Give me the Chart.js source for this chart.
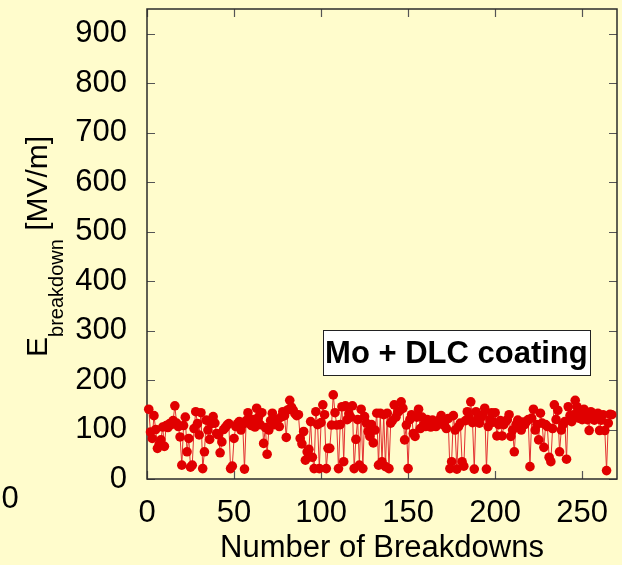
<!DOCTYPE html>
<html>
<head>
<meta charset="utf-8">
<script src="https://cdn.jsdelivr.net/npm/chart.js@4.4.0/dist/chart.umd.min.js"></script>
<style>
    body { margin: 0; background: #fffccc; }
    canvas { display: block; }
</style>
</head>
<body>
<canvas id="myChart" width="622" height="565"></canvas>
<script>
// breakdown field [MV/m], one value per breakdown, in order
const eBreakdown = [
    141, 95, 82, 128, 100, 62, 70, 79, 105, 66,
    108, 104, 112, 110, 118, 148, 113, 106, 85, 28,
    108, 125, 55, 82, 24, 28, 102, 136, 112, 89,
    134, 21, 55, 119, 99, 80, 112, 126, 113, 92,
    89, 53, 75, 100, 104, 109, 112, 21, 26, 82,
    106, 112, 116, 99, 110, 20, 118, 134, 112, 108,
    120, 105, 143, 125, 110, 134, 72, 104, 50, 99,
    118, 133, 110, 113, 120, 106, 125, 136, 128, 84,
    140, 159, 145, 139, 132, 128, 130, 82, 71, 96,
    38, 55, 60, 116, 44, 21, 136, 110, 21, 114,
    150, 130, 21, 62, 62, 109, 170, 134, 109, 21,
    110, 146, 35, 148, 120, 132, 125, 148, 21, 80,
    120, 28, 141, 21, 126, 113, 96, 86, 110, 73,
    99, 133, 28, 133, 35, 130, 25, 133, 21, 113,
    118, 150, 125, 134, 138, 156, 143, 79, 109, 21,
    120, 130, 92, 86, 125, 141, 102, 125, 110, 106,
    120, 116, 105, 119, 108, 106, 115, 120, 128, 110,
    108, 102, 122, 21, 35, 128, 99, 20, 106, 113,
    35, 26, 118, 136, 125, 156, 114, 20, 136, 122,
    113, 125, 130, 143, 20, 106, 120, 134, 115, 134,
    87, 110, 118, 87, 110, 116, 120, 130, 86, 99,
    55, 110, 119, 108, 99, 115, 110, 116, 120, 25,
    123, 141, 99, 110, 79, 133, 113, 64, 110, 106,
    44, 35, 102, 150, 120, 139, 55, 99, 110, 116,
    40, 146, 128, 116, 130, 159, 146, 123, 135, 120,
    141, 133, 120, 98, 136, 125, 119, 128, 133, 98,
    119, 130, 98, 17, 113, 131, 130
];
const xTicks = [0, 50, 100, 150, 200, 250];
const yTicks = [0, 100, 200, 300, 400, 500, 600, 700, 800, 900];
const xMax = 270;
const yMax = 950;
const boxLabel = "Mo + DLC coating";

const points = eBreakdown.map((v, i) => ({x: i + 1, y: v}));

const FONT = "'Liberation Sans', Arial, sans-serif";

// yellow page, framed plot box with inward ticks, titles and label box
const decor = {
    id: "decor",
    beforeDraw(chart) {
        const c = chart.ctx;
        c.save();
        c.fillStyle = "#fffccc";
        c.fillRect(0, 0, chart.width, chart.height);
        c.restore();
    },
    beforeDatasetsDraw(chart) {
        const c = chart.ctx;
        const a = chart.chartArea;
        const xs = chart.scales.x, ys = chart.scales.y;
        c.save();
        c.strokeStyle = "#555";
        c.lineWidth = 1.2;
        c.beginPath();
        xTicks.forEach(v => {
            const px = Math.round(xs.getPixelForValue(v)) + 0.5;
            c.moveTo(px, a.bottom); c.lineTo(px, a.bottom - 8);
            c.moveTo(px, a.top); c.lineTo(px, a.top + 8);
        });
        yTicks.forEach(v => {
            const py = Math.round(ys.getPixelForValue(v)) + 0.5;
            c.moveTo(a.left, py); c.lineTo(a.left + 8, py);
            c.moveTo(a.right, py); c.lineTo(a.right - 8, py);
        });
        c.stroke();
        c.strokeStyle = "#2b2b2b";
        c.lineWidth = 1.5;
        c.strokeRect(a.left, a.top, a.right - a.left, a.bottom - a.top);
        c.restore();
    },
    afterDraw(chart) {
        const c = chart.ctx;
        const a = chart.chartArea;
        const xs = chart.scales.x, ys = chart.scales.y;
        c.save();
        c.fillStyle = "#000";

        // x title
        c.font = "31px " + FONT;
        c.textAlign = "center";
        c.textBaseline = "alphabetic";
        c.fillText("Number of Breakdowns", (a.left + a.right) / 2, 557);

        // lone zero at far left
        c.fillText("0", 10, 508);

        // y title: E with subscript, rotated
        c.translate(47, 357);
        c.rotate(-Math.PI / 2);
        c.textAlign = "left";
        c.font = "30px " + FONT;
        c.fillText("E", 0, 0);
        let w = c.measureText("E").width;
        c.font = "20px " + FONT;
        c.fillText("breakdown", w, 16);
        w += c.measureText("breakdown").width;
        c.font = "30px " + FONT;
        c.fillText(" [MV/m]", w, 0);
        c.setTransform(1, 0, 0, 1, 0, 0);

        // label box
        const bx0 = xs.getPixelForValue(101), bx1 = xs.getPixelForValue(254.5);
        const by0 = ys.getPixelForValue(301), by1 = ys.getPixelForValue(210);
        c.fillStyle = "#fff";
        c.fillRect(bx0, by0, bx1 - bx0, by1 - by0);
        c.strokeStyle = "#222";
        c.lineWidth = 1;
        c.strokeRect(Math.round(bx0) + 0.5, Math.round(by0) + 0.5, Math.round(bx1 - bx0), Math.round(by1 - by0));
        c.fillStyle = "#000";
        c.font = "bold 31px " + FONT;
        c.textAlign = "center";
        c.fillText(boxLabel, (bx0 + bx1) / 2, by1 - 12);
        c.restore();
    }
};

let ctx = document.getElementById("myChart").getContext("2d");

let myChart = new Chart(ctx, {
    type: "line",
    data: {
        datasets: [
            {
                data: points,
                borderColor: "#e33030",
                borderWidth: 1,
                backgroundColor: "#e00000",
                pointBackgroundColor: "#e00000",
                pointBorderWidth: 0,
                pointRadius: 4.8,
                tension: 0,
                clip: false,
            },
        ],
    },
    options: {
        responsive: false,
        animation: false,
        layout: {
            padding: {left: 0, right: 5, top: 9, bottom: 0},
        },
        plugins: {
            legend: {display: false},
            tooltip: {enabled: false},
        },
        scales: {
            x: {
                type: "linear",
                min: 0,
                max: xMax,
                grid: {display: false},
                border: {display: false},
                afterBuildTicks: (s) => { s.ticks = xTicks.map(v => ({value: v})); },
                afterFit: (s) => { s.height = 86; s.paddingLeft = 0; s.paddingRight = 0; },
                ticks: {
                    color: "#000",
                    font: {family: FONT, size: 31},
                    padding: 8,
                    maxRotation: 0,
                    autoSkip: false,
                },
            },
            y: {
                min: 0,
                max: yMax,
                grid: {display: false},
                border: {display: false},
                afterBuildTicks: (s) => { s.ticks = yTicks.map(v => ({value: v})); },
                afterFit: (s) => { s.width = 147; s.paddingTop = 0; s.paddingBottom = 0; },
                ticks: {
                    color: "#000",
                    font: {family: FONT, size: 31},
                    padding: 12,
                    autoSkip: false,
                },
            },
        },
    },
    plugins: [decor],
});
</script>
</body>
</html>
